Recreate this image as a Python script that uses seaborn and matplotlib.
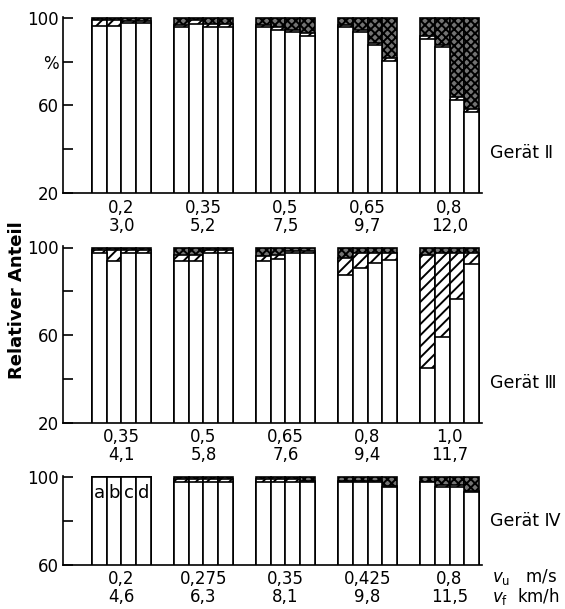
import matplotlib
matplotlib.use("Agg")
import matplotlib.pyplot as plt
import pandas as pd
import seaborn as sns

sns.set_theme(style="white")
plt.rcParams["font.family"] = ["DejaVu Sans"]
plt.rcParams["hatch.linewidth"] = 1.4
plt.rcParams["hatch.color"] = "black"
plt.rcParams["text.color"] = "black"

bars = ["a", "b", "c", "d"]

# ---- Gerät II ----
g2_vu = ["0,2", "0,35", "0,5", "0,65", "0,8"]
g2_vf = ["3,0", "5,2", "7,5", "9,7", "12,0"]
g2_white = [[96.5, 96.5, 97.5, 97.5],
            [95.7, 97.4, 95.7, 95.7],
            [95.9, 94.7, 93.4, 91.9],
            [95.7, 93.4, 87.5, 80.3],
            [90.6, 86.6, 62.7, 57.0]]
g2_hatch = [[2.5, 2.5, 1.0, 1.0],
            [1.0, 1.6, 1.5, 1.5],
            [1.0, 1.0, 1.0, 1.2],
            [1.0, 1.0, 1.2, 1.2],
            [1.2, 1.2, 1.2, 1.2]]

# ---- Gerät III ----
g3_vu = ["0,35", "0,5", "0,65", "0,8", "1,0"]
g3_vf = ["4,1", "5,8", "7,6", "9,4", "11,7"]
g3_white = [[97.3, 94.0, 97.3, 97.3],
            [94.0, 94.0, 97.3, 97.3],
            [93.8, 94.7, 97.3, 97.3],
            [87.4, 90.5, 92.7, 94.5],
            [45.0, 59.1, 76.4, 92.3]]
g3_hatch = [[1.5, 4.8, 1.5, 1.5],
            [2.5, 2.5, 1.5, 1.5],
            [2.5, 2.0, 1.0, 1.0],
            [7.6, 6.8, 4.6, 2.8],
            [51.5, 38.5, 20.9, 5.0]]

# ---- Gerät IV ----
g4_vu = ["0,2", "0,275", "0,35", "0,425", "0,8"]
g4_vf = ["4,6", "6,3", "8,1", "9,8", "11,5"]
g4_white = [[100.0, 100.0, 100.0, 100.0],
            [97.8, 97.8, 97.8, 97.8],
            [97.8, 97.8, 97.8, 97.8],
            [97.8, 97.8, 97.8, 95.4],
            [97.5, 95.4, 95.4, 93.1]]
g4_hatch = [[0.0, 0.0, 0.0, 0.0],
            [1.2, 1.2, 1.2, 1.2],
            [1.2, 1.2, 1.2, 0.4],
            [0.4, 0.4, 0.4, 0.4],
            [0.4, 0.8, 0.8, 0.4]]

W, H = 565, 609
fig = plt.figure(figsize=(W / 100, H / 100), dpi=100)

LW = 1.2
YTOP = 100.6
PXU = 175 / 80.0  # pixels per percent


def make_ax(top_px, ymin):
    h_px = (YTOP - ymin) * PXU
    top = top_px - (YTOP - 100) * PXU
    return fig.add_axes([63 / W, 1 - (top + h_px) / H, 419 / W, h_px / H])


def draw(ax, vu, vf, white, hatch, ymin, yticks, yticklabels):
    labels = [f"{u}\n{f}" for u, f in zip(vu, vf)]
    rows = []
    for gi, lab in enumerate(labels):
        for bi, b in enumerate(bars):
            w = white[gi][bi]
            h = hatch[gi][bi]
            rows.append(dict(group=lab, bar=b, white=w, mid=w + h, total=100.0))
    df = pd.DataFrame(rows)
    layers = [("total", "xxxx", "0.45"), ("mid", "///", "white"),
              ("white", None, "white")]
    for col, hp, fc in layers:
        n0 = len(ax.patches)
        sns.barplot(data=df, x="group", y=col, hue="bar", order=labels,
                    hue_order=bars, palette=["white"] * 4, saturation=1,
                    width=0.72, edgecolor="black", linewidth=LW,
                    legend=False, errorbar=None, ax=ax)
        for p in ax.patches[n0:]:
            p.set_facecolor(fc)
            if hp:
                p.set_hatch(hp)
    ax.set_ylim(ymin, YTOP)
    ax.set_xlim(-0.713, 4.396)
    ax.set_xlabel("")
    ax.set_ylabel("")
    ax.set_yticks(yticks)
    ax.set_yticklabels(yticklabels, fontsize=12)
    ax.set_xticks(range(len(labels)))
    ax.set_xticklabels(labels, fontsize=12, linespacing=1.0)
    ax.tick_params(axis="y", direction="in", left=True, length=7, width=LW,
                   pad=3, colors="black")
    ax.tick_params(axis="x", length=0, pad=4, colors="black")
    for s in ["top", "right"]:
        ax.spines[s].set_visible(False)
    for s in ["left", "bottom"]:
        ax.spines[s].set_color("black")
        ax.spines[s].set_linewidth(LW)
    ax.patch.set_alpha(0)
    return ax


ax1 = make_ax(18, 20)
draw(ax1, g2_vu, g2_vf, g2_white, g2_hatch, 20,
     [20, 40, 60, 80, 100], ["20", "", "60", "%", "100"])
ax2 = make_ax(247.5, 20)
draw(ax2, g3_vu, g3_vf, g3_white, g3_hatch, 20,
     [20, 40, 60, 80, 100], ["20", "", "60", "", "100"])
ax3 = make_ax(477, 60)
draw(ax3, g4_vu, g4_vf, g4_white, g4_hatch, 60,
     [60, 80, 100], ["60", "", "100"])

# letters a-d inside the first group of Gerät IV
first = sorted(ax3.patches[-20:], key=lambda p: p.get_x())[:4]
for p, letter in zip(first, bars):
    ax3.text(p.get_x() + p.get_width() / 2, 92.7, letter, ha="center",
             va="center", fontsize=13, color="black")

fig.text(490 / W, 1 - 153 / H, "Gerät Ⅱ", fontsize=12.5, va="center", ha="left")
fig.text(490 / W, 1 - 383 / H, "Gerät Ⅲ", fontsize=12.5, va="center", ha="left")
fig.text(490 / W, 1 - 521 / H, "Gerät Ⅳ", fontsize=12.5, va="center", ha="left")
fig.text(492 / W, 1 - 587 / H,
         r"$v_\mathrm{u}$   m/s" + "\n" + r"$v_\mathrm{f}$  km/h",
         fontsize=12, va="center", ha="left", linespacing=0.95)
fig.text(17 / W, 1 - 300 / H, "Relativer Anteil", rotation=90, fontsize=13,
         fontweight="bold", va="center", ha="center")

fig.savefig("out.png", dpi=100, facecolor="white")
